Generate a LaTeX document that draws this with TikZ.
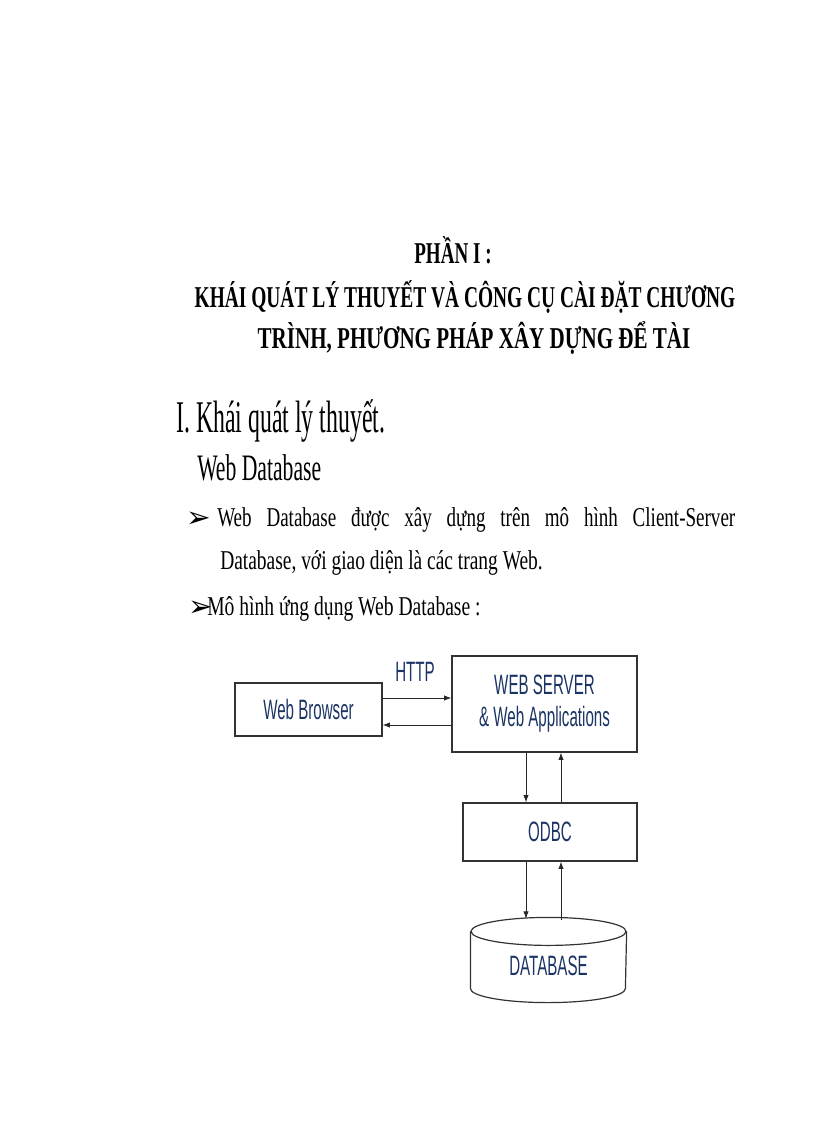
\documentclass[tikz,border=0pt]{standalone}
\usepackage{fontspec}
\usepackage{graphicx}
\usepackage{xcolor}
\usetikzlibrary{calc, arrows.meta}
\setmainfont{Liberation Serif}
\newfontfamily\diagfont{Liberation Sans}
\newfontfamily\bulletfont{DejaVu Sans}
\definecolor{navytext}{RGB}{28,52,100}
\newcommand{\squeeze}[2]{\scalebox{#1}[1]{#2}}
\tikzset{
	txt/.style={inner sep=0pt, anchor=base west},
	box/.style={draw=black!80, line width=0.9pt, inner sep=0pt, text=navytext,
		font=\diagfont\fontsize{21}{24}\selectfont, align=center},
	link/.style={-{Latex[length=5.5pt,width=4pt]}, line width=0.6pt, black!85}
}
\begin{document}
\begin{tikzpicture}[x=0.75pt,y=-0.75pt]
	\useasboundingbox (0,0) rectangle (816,1123);
	%Title
	\node [txt, anchor=base] (title1) at (453,263) {\bfseries\fontsize{22.7}{26}\selectfont\squeeze{0.63}{PHẦN I :}};
	\node [txt, anchor=base] (title2) at (465,307) {\bfseries\fontsize{22.7}{26}\selectfont\squeeze{0.642}{KHÁI QUÁT LÝ THUYẾT VÀ CÔNG CỤ CÀI ĐẶT CHƯƠNG}};
	\node [txt, anchor=base] (title3) at (474,348) {\bfseries\fontsize{22.7}{26}\selectfont\squeeze{0.695}{TRÌNH, PHƯƠNG PHÁP XÂY DỰNG ĐỂ TÀI}};
	%Headings
	\node [txt] (head1) at (176,432) {\fontsize{34}{38}\selectfont\squeeze{0.525}{I. Khái quát lý thuyết.}};
	\node [txt] (head2) at (197,480) {\fontsize{28}{32}\selectfont\squeeze{0.58}{Web Database}};
	%Bullets
	\node [txt] (bul1) at (186,527) {\bulletfont\fontsize{22}{24}\selectfont ➢};
	\node [txt] (line1) at (217,526) {\fontsize{20.4}{24}\selectfont\squeeze{0.70}{\makebox[555pt][s]{Web Database được xây dựng trên mô hình Client-Server}}};
	\node [txt] (line2) at (220,569) {\fontsize{20.4}{24}\selectfont\squeeze{0.715}{Database, với giao diện là các trang Web.}};
	\node [txt] (bul2) at (188,616) {\bulletfont\fontsize{22}{24}\selectfont ➢};
	\node [txt] (line3) at (207,615) {\fontsize{20.4}{24}\selectfont\squeeze{0.72}{Mô hình ứng dụng Web Database :}};
	%Diagram boxes
	\node [box, minimum width=110.25pt, minimum height=39.75pt] (browser) at (308.5,709.5) {\squeeze{0.54}{Web Browser}};
	\node [box, minimum width=138.75pt, minimum height=72pt] (server) at (544.5,704) {\squeeze{0.54}{WEB SERVER}\\\squeeze{0.54}{\& Web Applications}};
	\node [box, minimum width=130.5pt, minimum height=43.5pt] (odbc) at (550,832) {\squeeze{0.54}{ODBC}};
	\node [box, draw=none, minimum width=116.25pt, minimum height=63pt, text height=22.5pt, text depth=0pt] (db) at (548.5,960) {\squeeze{0.54}{DATABASE}};
	\node [text=navytext, font=\diagfont\fontsize{21}{24}\selectfont, inner sep=0pt] (http) at (415,672) {\squeeze{0.54}{HTTP}};
	%Database cylinder
	\draw [draw=black!80, line width=0.9pt] ([yshift=-10.5pt]db.north) ellipse [x radius=58.125pt, y radius=10.5pt];
	\draw [draw=black!80, line width=0.9pt] ([yshift=-10.5pt]db.north west) -- ([yshift=10.5pt]db.south west)
		arc [start angle=180, end angle=360, x radius=58.125pt, y radius=10.5pt] -- ([yshift=-10.5pt]db.north east);
	%Connector positions
	\coordinate (reqy) at (0,698);
	\coordinate (respy) at (0,725);
	\coordinate (downx) at (526,0);
	\coordinate (upx) at (561,0);
	%Connectors
	\draw [link] (browser.east |- reqy) -- (server.west |- reqy);
	\draw [link] (server.west |- respy) -- (browser.east |- respy);
	\draw [link] (server.south -| downx) -- (odbc.north -| downx);
	\draw [link] (odbc.north -| upx) -- (server.south -| upx);
	\draw [link] (odbc.south -| downx) -- ([yshift=-1pt]db.north -| downx);
	\draw [link] ([yshift=-2pt]db.north -| upx) -- (odbc.south -| upx);
\end{tikzpicture}
\end{document}
